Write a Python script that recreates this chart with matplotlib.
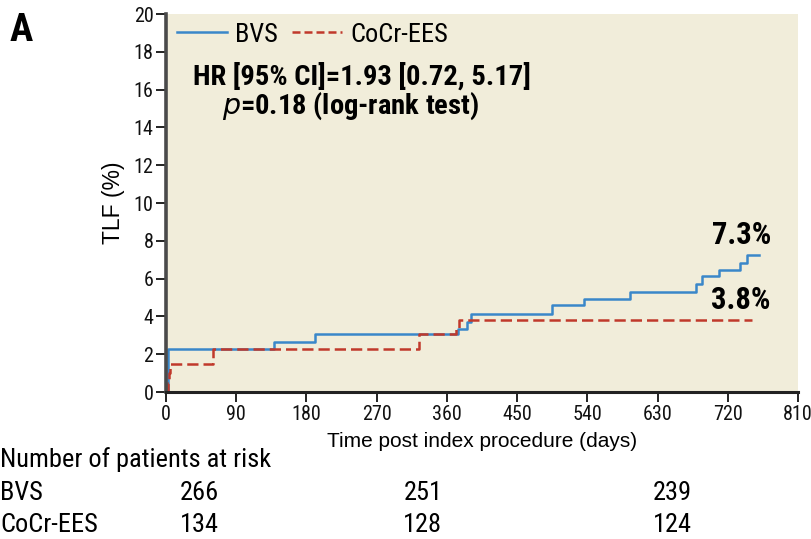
import matplotlib
matplotlib.use("Agg")
import matplotlib.pyplot as plt

# Kaplan-Meier style step curves (days, TLF %)
bvs_days = [0, 2, 3, 139, 191, 374, 386, 391, 494, 536, 595, 679, 687, 709, 736, 745, 760]
bvs_tlf = [0, 1.1, 2.26, 2.63, 3.05, 3.35, 3.72, 4.14, 4.6, 4.91, 5.3, 5.7, 6.14, 6.47, 6.84, 7.23, 7.23]

ees_days = [0, 2, 4, 5, 60, 324, 372, 375, 751]
ees_tlf = [0, 0.5, 1.0, 1.47, 2.28, 3.05, 3.4, 3.8, 3.8]

x_ticks = [0, 90, 180, 270, 360, 450, 540, 630, 720, 810]
y_ticks = [0, 2, 4, 6, 8, 10, 12, 14, 16, 18, 20]

risk_groups = ["BVS", "CoCr-EES"]
risk_bvs = [266, 251, 239]
risk_ees = [134, 128, 124]
risk_pos = [43, 329, 649]  # where the at-risk numbers sit along the time axis

narrow = ["Roboto Condensed", "Liberation Sans Narrow", "DejaVu Sans"]
regular = ["Liberation Sans", "DejaVu Sans"]
nkw = dict(family=narrow, stretch="condensed")

fig = plt.figure(figsize=(8.12, 5.39), dpi=100)
ax = fig.add_axes([0.2044, 0.2727, 0.7786, 0.7013])
ax.set_facecolor("#f1edda")

ax.step(bvs_days, bvs_tlf, where="post", color="#3a87c9", lw=1.8, label="BVS")
ax.step(ees_days, ees_tlf, where="post", color="#c0392b", lw=1.8,
        linestyle=(0, (4.5, 2)), label="CoCr-EES")

ax.set_xlim(0, 810)
ax.set_ylim(0, 20)
ax.set_xticks(x_ticks)
ax.set_yticks(y_ticks)
ax.tick_params(direction="out", length=7, width=1.3, colors="#111111", labelsize=14.5, pad=2)
for lab in ax.get_xticklabels() + ax.get_yticklabels():
    lab.set_family(narrow)
    lab.set_stretch("condensed")

for side in ["top", "right"]:
    ax.spines[side].set_visible(False)
ax.spines["left"].set_linewidth(2.6)
ax.spines["left"].set_color("#4a4a4a")
ax.spines["bottom"].set_linewidth(2.2)
ax.spines["bottom"].set_color("#222222")

ax.set_ylabel("TLF (%)", fontsize=16.5, family=regular, labelpad=6)
ax.set_xlabel("Time post index procedure (days)", fontsize=15, family=regular, labelpad=6)

leg = ax.legend(loc="upper left", ncol=2, frameon=False,
                prop={"family": "Roboto Condensed", "stretch": "condensed", "size": 19},
                handlelength=1.9, columnspacing=0.55, handletextpad=0.3,
                borderaxespad=0.0, bbox_to_anchor=(0.0, 1.005))
leg.get_lines()[1].set_dashes([3.2, 1.6])

ax.text(0.043, 0.834, "HR [95% CI]=1.93 [0.72, 5.17]", transform=ax.transAxes,
        fontsize=20.5, fontweight="bold", va="center", **nkw)
ax.text(0.088, 0.757, r"$\bf{\it{p}}$=0.18 (log-rank test)", transform=ax.transAxes,
        fontsize=20.5, fontweight="bold", va="center", **nkw)

ax.text(bvs_days[-1] + 15, bvs_tlf[-1] + 0.3, "7.3%", fontsize=22, fontweight="bold",
        ha="right", va="bottom", **nkw)
ax.text(ees_days[-1] + 24, ees_tlf[-1] + 0.3, "3.8%", fontsize=22, fontweight="bold",
        ha="right", va="bottom", **nkw)

fig.text(0.012, 0.978, "A", fontsize=28, fontweight="bold", va="top", **nkw)

# at-risk table below the axis
fig.text(0.0, 0.148, "Number of patients at risk", fontsize=19, va="center", **nkw)
row_y = [0.085, 0.026]
for name, vals, y in zip(risk_groups, [risk_bvs, risk_ees], row_y):
    fig.text(0.0, y, name, fontsize=19, va="center", **nkw)
    for d, v in zip(risk_pos, vals):
        xf = ax.transData.transform((d, 0))[0] / fig.bbox.width
        fig.text(xf, y, str(v), fontsize=19, va="center", ha="center", **nkw)

fig.savefig("out.png", dpi=100)
